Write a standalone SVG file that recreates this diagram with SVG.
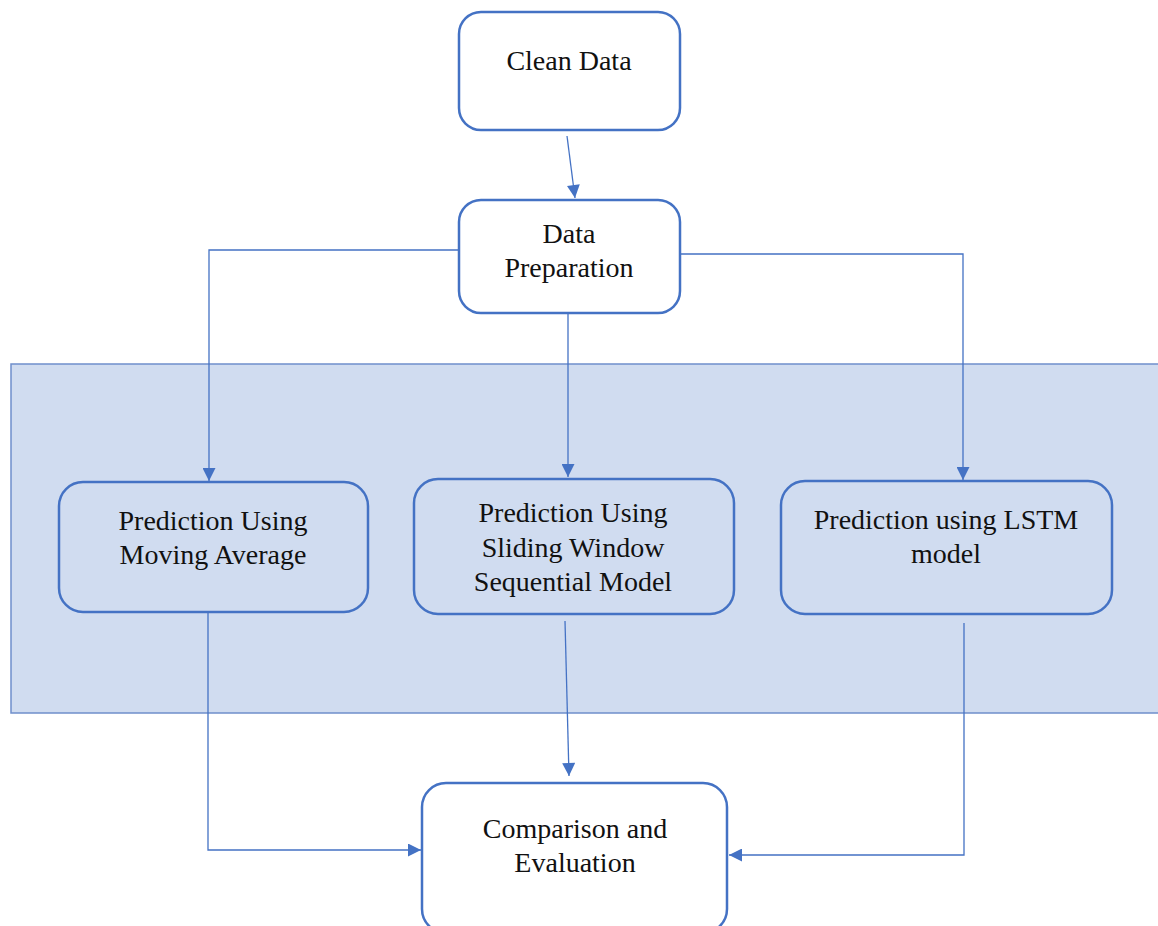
<svg xmlns="http://www.w3.org/2000/svg" width="1158" height="926" viewBox="0 0 1158 926">
<style>
.box{fill:#ffffff;stroke:#4472C4;stroke-width:2.5}
.pbox{fill:#D0DCF0;stroke:#4472C4;stroke-width:2.5}
.conn{fill:none;stroke:#4472C4;stroke-width:1.3}
text{font-family:"Liberation Serif","Times New Roman",serif;font-size:28px;fill:#111;text-anchor:middle}
</style>
<defs>
<marker id="ah" viewBox="0 0 10 10" refX="10" refY="5" markerWidth="14" markerHeight="13" markerUnits="userSpaceOnUse" orient="auto">
<path d="M0,0 L10,5 L0,10 z" fill="#4472C4"/>
</marker>
</defs>
<rect id="panel" x="11" y="364" width="1160" height="349" fill="#D0DCF0" stroke="#6F8FCB" stroke-width="1.5"/>
<g id="connectors">
<line class="conn" x1="567" y1="136" x2="575" y2="198" marker-end="url(#ah)"/>
<polyline class="conn" points="459,250 209,250 209,481" marker-end="url(#ah)"/>
<line class="conn" x1="568" y1="313" x2="568" y2="477" marker-end="url(#ah)"/>
<polyline class="conn" points="680,254 963,254 963,480" marker-end="url(#ah)"/>
<polyline class="conn" points="208,613 208,850 421,850" marker-end="url(#ah)"/>
<line class="conn" x1="565" y1="621" x2="569" y2="776" marker-end="url(#ah)"/>
<polyline class="conn" points="964,623 964,855 729,855" marker-end="url(#ah)"/>
</g>
<g id="clean-data">
<rect class="box" x="459" y="12" width="221" height="118" rx="22"/>
<text x="569" y="70">Clean Data</text>
</g>
<g id="data-preparation">
<rect class="box" x="459" y="200" width="221" height="113" rx="22"/>
<text x="569" y="243">Data</text>
<text x="569" y="277">Preparation</text>
</g>
<g id="moving-average">
<rect class="pbox" x="59" y="482" width="309" height="130" rx="24"/>
<text x="213" y="530">Prediction Using</text>
<text x="213" y="564">Moving Average</text>
</g>
<g id="sliding-window">
<rect class="pbox" x="414" y="479" width="320" height="135" rx="24"/>
<text x="573" y="522">Prediction Using</text>
<text x="573" y="557">Sliding Window</text>
<text x="573" y="591">Sequential Model</text>
</g>
<g id="lstm">
<rect class="pbox" x="781" y="481" width="331" height="133" rx="24"/>
<text x="946" y="529">Prediction using LSTM</text>
<text x="946" y="563">model</text>
</g>
<g id="comparison">
<rect class="box" x="422" y="783" width="305" height="150" rx="24"/>
<text x="575" y="838">Comparison and</text>
<text x="575" y="872">Evaluation</text>
</g>
</svg>
